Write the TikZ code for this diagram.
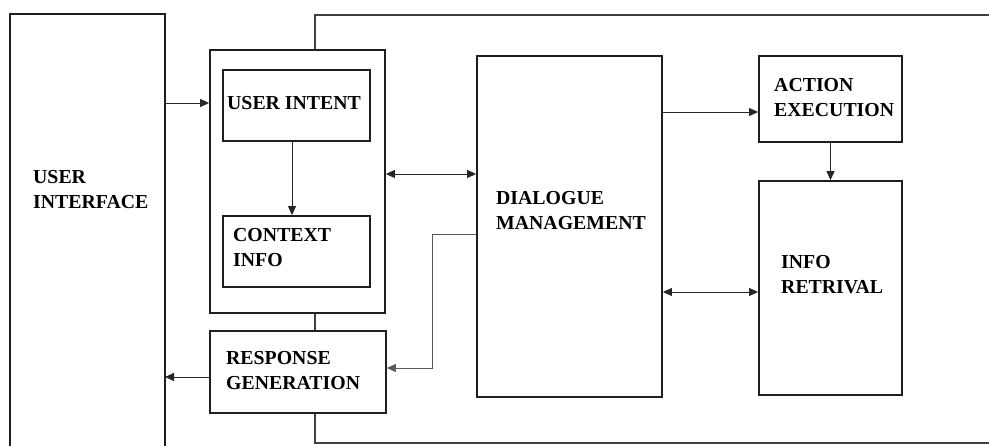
\documentclass[tikz,border=0pt]{standalone}
\usepackage{fontspec}
\setmainfont{Liberation Serif}
\usetikzlibrary{arrows.meta}
\begin{document}
\begin{tikzpicture}[x=1pt,y=-1pt,
  box/.style={draw=black!88,line width=1.8pt,minimum width=#1,inner sep=0pt},
  frame/.style={draw=black!75,line width=1.8pt},
  conn/.style={draw=black!85,line width=0.9pt},
  arr/.style={conn,-{Triangle[length=9pt,width=8pt]}},
  darr/.style={conn,{Triangle[length=9pt,width=8pt]}-{Triangle[length=9pt,width=8pt]}},
  lbl/.style={anchor=west,inner sep=0pt,align=left,font=\fontsize{19.8}{25}\selectfont\bfseries}]
\useasboundingbox (0,0) rectangle (989,445);
% user interface (open at bottom)
\draw[frame,draw=black!88] (10,447) -- (10,14) -- (165,14) -- (165,447);
\node[lbl] (uit) at (33,190) {USER\\INTERFACE};
% boxes
\node[box=175pt,minimum height=263pt] (cont) at (297.5,181.5) {};
\node[box=147pt,minimum height=71pt] (intent) at (296.5,105.5) {};
\node[box=147pt,minimum height=71pt] (ctx) at (296.5,251.5) {};
\node[box=176pt,minimum height=82pt] (rg) at (298,372) {};
\node[box=185pt,minimum height=341pt] (dm) at (569.5,226.5) {};
\node[box=143pt,minimum height=86pt] (ae) at (830.5,99) {};
\node[box=143pt,minimum height=214pt] (ir) at (830.5,288) {};
% labels
\node[lbl] (intentt) at (227,103) {USER INTENT};
\node[lbl] (ctxt) at (233,248) {CONTEXT\\INFO};
\node[lbl] (rgt) at (226,371) {RESPONSE\\GENERATION};
\node[lbl] (dmt) at (496,211) {DIALOGUE\\MANAGEMENT};
\node[lbl] (aet) at (774,98) {ACTION\\EXECUTION};
\node[lbl] (irt) at (781,275) {INFO\\RETRIVAL};
% outer frame
\draw[frame] (cont.north -| 315,0) -- (315,15) -- (991,15);
\draw[frame] (cont.south -| 315,0) -- (rg.north -| 315,0);
\draw[frame] (rg.south -| 315,0) -- (315,443) -- (991,443);
% connectors
\coordinate (uiin) at (165,103);
\coordinate (uiout) at (165,377);
\draw[arr] (uiin) -- (uiin -| cont.west);
\draw[arr] (intent.south -| 292,0) -- (ctx.north -| 292,0);
\draw[darr] (cont.east |- 0,174) -- (dm.west |- 0,174);
\draw[arr] (dm.east |- 0,112) -- (ae.west |- 0,112);
\draw[arr] (ae.south) -- (ir.north);
\draw[darr] (dm.east |- 0,292) -- (ir.west |- 0,292);
\draw[arr,draw=black!65] (dm.west |- 0,234) -| (432,368) -- (rg.east |- 0,368);
\draw[arr] (rg.west |- uiout) -- (uiout);
\end{tikzpicture}
\end{document}
